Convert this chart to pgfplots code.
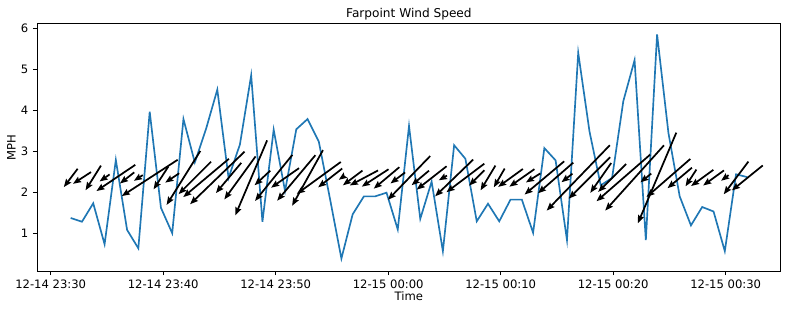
\documentclass[border=0pt]{standalone}
\usepackage{fontspec}
\setmainfont{DejaVu Sans}
\usepackage{pgfplots}
\pgfplotsset{compat=1.18}
\usepackage{pgfplotstable}
\usetikzlibrary{arrows.meta}
\definecolor{c0}{RGB}{31,119,180}

% t = minutes after 12-14 23:30, s = wind speed (MPH), phi = arrow angle below the -x direction (deg)
\pgfplotstableread{
t s phi
1.78 1.37 53
2.78 1.28 33
3.78 1.73 58
4.79 0.73 35
5.79 2.79 34
6.79 1.08 38
7.79 0.63 33
8.80 3.97 33
9.80 1.62 57
10.80 1.00 34
11.80 3.79 58
12.81 2.73 45
13.81 3.55 40
14.81 4.51 44
15.81 2.35 50
16.82 3.17 54
17.82 4.86 67
18.82 1.28 43
19.82 3.53 51
20.83 2.03 35
21.83 3.54 50
22.83 3.79 61
23.83 3.24 36
24.84 1.82 38
25.84 0.38 35
26.84 1.46 37
27.84 1.90 28
28.84 1.90 33
29.85 1.99 40
30.85 1.09 37
31.85 3.62 46
32.85 1.35 40
33.86 2.26 38
34.86 0.56 30
35.86 3.15 44
36.86 2.82 37
37.87 1.29 45
38.87 1.72 59
39.87 1.29 60
40.87 1.82 36
41.88 1.82 35
42.88 1.01 32
43.88 3.08 40
44.88 2.78 41
45.89 0.83 38
46.89 5.41 46
47.89 3.49 45
48.89 2.17 55
49.90 2.35 45
50.90 4.23 41
51.90 5.23 48
52.90 0.83 39
53.90 5.86 67
54.91 3.45 41
55.91 1.90 40
56.91 1.19 57
57.91 1.64 36
58.92 1.53 36
59.92 0.56 37
60.92 2.44 53
61.92 2.37 39
}\data

\begin{document}
\begin{tikzpicture}
\begin{axis}[
  x=8.4375pt, y=30.675pt,
  xmin=-1.218, xmax=64.9, ymin=0.075, ymax=6.12,
  axis line style={line width=0.6pt},
  xtick={0,10,...,60},
  xticklabels={12-14 23:30,12-14 23:40,12-14 23:50,12-15 00:00,12-15 00:10,12-15 00:20,12-15 00:30},
  ytick={1,2,3,4,5,6},
  tick align=outside, xtick pos=bottom, ytick pos=left,
  major tick length=3pt,
  tick style={line width=0.6pt, black},
  ticklabel style={font=\fontsize{8.7}{10}\selectfont},
  /pgf/number format/assume math mode=true,
  title={Farpoint Wind Speed},
  title style={font=\fontsize{9.1}{11}\selectfont, at={(axis description cs:0.5,1)}, anchor=base, yshift=-1.6pt},
  xlabel={Time}, ylabel={MPH},
  xlabel style={font=\fontsize{8.7}{10}\selectfont, at={(axis description cs:0.5,-0.101)}, anchor=center},
  ylabel style={font=\fontsize{8.7}{10}\selectfont, at={(axis description cs:-0.0345,0.5)}, anchor=center},
  clip=false,
]
\addplot[c0, line width=1.25pt, no marks] table[x=t, y=s] {\data};
\addplot[black, line width=1.3pt, -{Stealth[length=6pt,width=4.6pt,inset=0.8pt]},
  quiver={u=-1.4933*\thisrow{s}*cos(\thisrow{phi}), v=-0.41076*\thisrow{s}*sin(\thisrow{phi})}]
  table[x expr=\thisrow{t}+0.74665*\thisrow{s}*cos(\thisrow{phi}), y expr=2.35+0.20538*\thisrow{s}*sin(\thisrow{phi})] {\data};
\end{axis}
\pgfresetboundingbox
\path[use as bounding box] (-27.75pt,-30pt) rectangle (564pt,203.25pt);
\end{tikzpicture}
\end{document}
